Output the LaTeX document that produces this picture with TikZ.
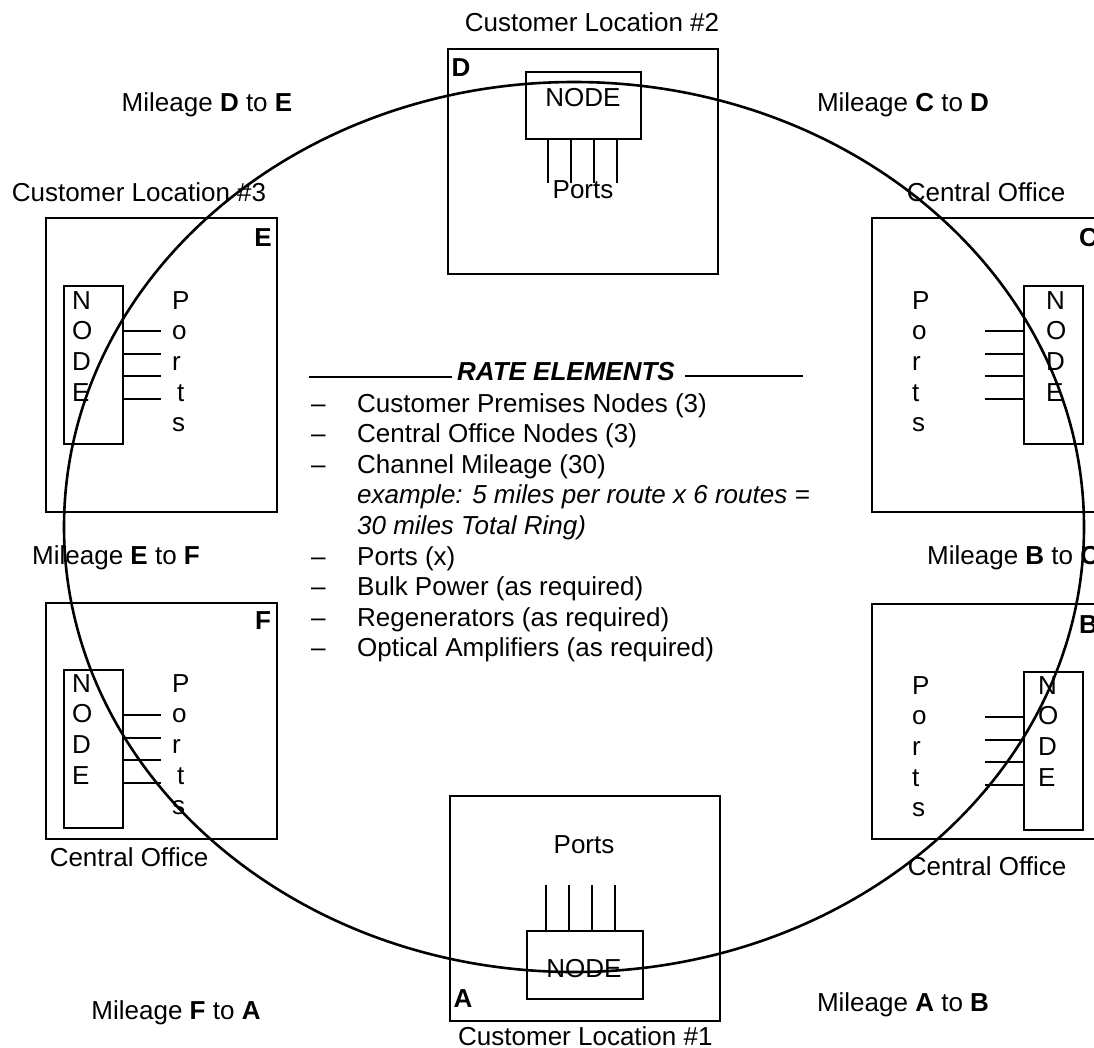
\documentclass[tikz,border=0pt]{standalone}
\usepackage{fontspec}
\setmainfont{Liberation Sans}
\begin{document}
\begin{tikzpicture}[x=1pt,y=-1pt,
  lbl/.style={font=\fontsize{26}{30.5}\selectfont, inner sep=0pt, anchor=base},
  lblb/.style={lbl, font=\fontsize{26}{30.5}\selectfont\bfseries},
  site/.style={draw, line width=2pt, inner sep=0pt, anchor=north west},
  nbox/.style={draw, line width=2pt, inner sep=0pt, anchor=north west},
  port/.style={draw, line width=2pt},
  ring/.style={draw, line width=2.6pt},
  rule/.style={draw, line width=2pt}]
\useasboundingbox (0,0) rectangle (1094,1047);
\clip (0,0) rectangle (1094,1047);

% ---- site boxes
\node[site, minimum width=270pt, minimum height=225pt] (boxD) at (447,48) {};
\node[site, minimum width=270pt, minimum height=225pt] (boxA) at (449,795) {};
\node[site, minimum width=231pt, minimum height=294pt] (boxE) at (45,217) {};
\node[site, minimum width=231pt, minimum height=236pt] (boxF) at (45,602) {};
\node[site, minimum width=231pt, minimum height=294pt] (boxC) at (871,217) {};
\node[site, minimum width=231pt, minimum height=235pt] (boxB) at (871,603) {};

% ---- site letters
\node[lblb] (lD) at (461,76) {D};
\node[lblb] (lA) at (463,1007) {A};
\node[lblb] (lE) at (263,246) {E};
\node[lblb] (lF) at (263,629) {F};
\node[lblb, anchor=base west] (lC) at (1079,246) {C};
\node[lblb, anchor=base west] (lB) at (1079,633) {B};

% ---- D (top)
\node[nbox, minimum width=115pt, minimum height=67pt] (nD) at (525,71) {};
\node[lbl] (tD) at (583,106) {NODE};
\foreach \x [count=\k] in {548,571,594,617} {
  \coordinate (qD\k) at (\x,183);
  \draw[port] (qD\k |- nD.south) -- (qD\k);
}
\node[lbl] (pD) at (583,198) {Ports};

% ---- A (bottom)
\node[nbox, minimum width=116pt, minimum height=68pt] (nA) at (526,930) {};
\node[lbl] (tA) at (584,977) {NODE};
\foreach \x [count=\k] in {546,569,592,615} {
  \coordinate (qA\k) at (\x,885);
  \draw[port] (qA\k |- nA.north) -- (qA\k);
}
\node[lbl] (pA) at (584,853) {Ports};

% ---- E (left top)
\node[nbox, minimum width=59pt, minimum height=158pt] (nE) at (63,285) {};
\foreach \l [count=\k from 0] in {N,O,D,E}
  \node[lbl, anchor=base west] (nE\k) at (72,{309+30.7*\k}) {\l};
\foreach \l/\dx [count=\k from 0] in {P/0,o/0,r/0,t/5,s/0}
  \node[lbl, anchor=base west] (pE\k) at ({172+\dx},{309+30.7*\k}) {\l};
\foreach \dy [count=\k] in {46,68.5,91,113.5} {
  \coordinate (qE\k) at (161,{285+\dy});
  \draw[port] (qE\k -| nE.east) -- (qE\k);
}

% ---- F (left bottom)
\node[nbox, minimum width=59pt, minimum height=158pt] (nF) at (63,669) {};
\foreach \l [count=\k from 0] in {N,O,D,E}
  \node[lbl, anchor=base west] (nF\k) at (72,{692+30.7*\k}) {\l};
\foreach \l/\dx [count=\k from 0] in {P/0,o/0,r/0,t/5,s/0}
  \node[lbl, anchor=base west] (pF\k) at ({172+\dx},{692+30.7*\k}) {\l};
\foreach \dy [count=\k] in {46,68.5,91,113.5} {
  \coordinate (qF\k) at (161,{669+\dy});
  \draw[port] (qF\k -| nF.east) -- (qF\k);
}

% ---- C (right top)
\node[nbox, minimum width=59pt, minimum height=158pt] (nC) at (1023,285) {};
\foreach \l [count=\k from 0] in {N,O,D,E}
  \node[lbl, anchor=base west] (nC\k) at (1046,{309+30.7*\k}) {\l};
\foreach \l [count=\k from 0] in {P,o,r,t,s}
  \node[lbl, anchor=base west] (pC\k) at (912,{309+30.7*\k}) {\l};
\foreach \dy [count=\k] in {46,68.5,91,113.5} {
  \coordinate (qC\k) at (985,{285+\dy});
  \draw[port] (qC\k) -- (qC\k -| nC.west);
}

% ---- B (right bottom)
\node[nbox, minimum width=59pt, minimum height=158pt] (nB) at (1023,671) {};
\foreach \l [count=\k from 0] in {N,O,D,E}
  \node[lbl, anchor=base west] (nB\k) at (1038,{694+30.7*\k}) {\l};
\foreach \l [count=\k from 0] in {P,o,r,t,s}
  \node[lbl, anchor=base west] (pB\k) at (912,{694+30.7*\k}) {\l};
\foreach \dy [count=\k] in {46,68.5,91,113.5} {
  \coordinate (qB\k) at (985,{671+\dy});
  \draw[port] (qB\k) -- (qB\k -| nB.west);
}

% ---- outer labels
\node[lbl] (cl2) at (592,31) {Customer Location \#2};
\node[lbl] (mde) at (207,111) {Mileage \textbf{D} to \textbf{E}};
\node[lbl] (mcd) at (903,111) {Mileage \textbf{C} to \textbf{D}};
\node[lbl] (cl3) at (139,201) {Customer Location \#3};
\node[lbl] (co1) at (986,201) {Central Office};
\node[lbl] (mef) at (116,564) {Mileage \textbf{E} to \textbf{F}};
\node[lbl, anchor=base west] (mbc) at (927,564) {Mileage \textbf{B} to \textbf{C}};
\node[lbl] (co2) at (129,866) {Central Office};
\node[lbl] (co3) at (987,875) {Central Office};
\node[lbl] (mfa) at (176,1019) {Mileage \textbf{F} to \textbf{A}};
\node[lbl] (mab) at (903,1011) {Mileage \textbf{A} to \textbf{B}};
\node[lbl, anchor=base west] (cl1) at (458,1045) {Customer Location \#1};

% ---- rate elements
\node[lbl, font=\fontsize{26}{30.5}\selectfont\bfseries\itshape] (title) at (566,380) {RATE ELEMENTS};
\coordinate (r1) at (309,377);
\coordinate (r2) at (452,377);
\coordinate (r3) at (685,376);
\coordinate (r4) at (803,376);
\draw[rule] (r1) -- (r2);
\draw[rule] (r3) -- (r4);
\foreach \t/\b [count=\k] in {
  {Customer Premises Nodes (3)}/412,
  {Central Office Nodes (3)}/442.6,
  {Channel Mileage (30)}/473.2,
  {Ports (x)}/565,
  {Bulk Power (as required)}/595.6,
  {Regenerators (as required)}/626.2,
  {Optical Amplifiers (as required)}/656.8} {
  \node[lbl, anchor=base west] (d\k) at (311,\b) {–};
  \node[lbl, anchor=base west] (e\k) at (357,\b) {\t};
}
\node[lbl, anchor=base west, font=\fontsize{26}{30.5}\selectfont\itshape] (ex1) at (357,503.8) {example: 5 miles per route x 6 routes =};
\node[lbl, anchor=base west, font=\fontsize{26}{30.5}\selectfont\itshape] (ex2) at (357,534.4) {30 miles Total Ring)};

% ---- ring
\coordinate (ctr) at (574,527);
\draw[ring] (ctr) ellipse [x radius=510pt, y radius=445pt];
\end{tikzpicture}
\end{document}
